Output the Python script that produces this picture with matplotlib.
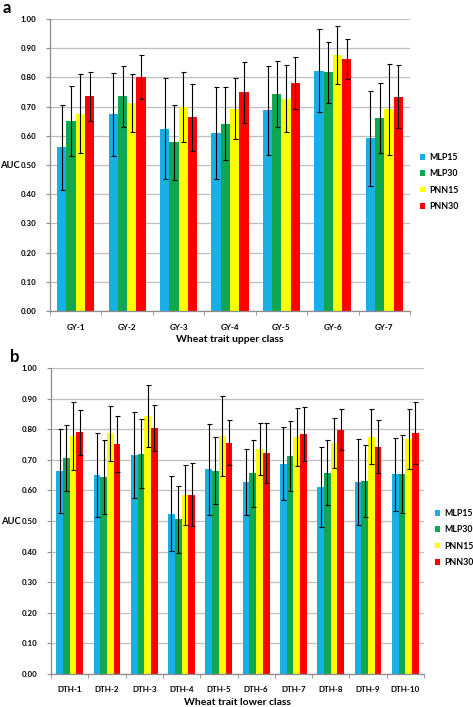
import numpy as np
import matplotlib
matplotlib.use("Agg")
import matplotlib.pyplot as plt
from matplotlib.patches import Patch

plt.rcParams['font.family'] = ['Lato', 'DejaVu Sans']
plt.rcParams['font.weight'] = 'bold'

# Data, panel a (upper class)
cats_a = ["GY-1", "GY-2", "GY-3", "GY-4", "GY-5", "GY-6", "GY-7"]
mlp15_a = [0.561, 0.673, 0.625, 0.609, 0.687, 0.823, 0.591]
mlp30_a = [0.650, 0.735, 0.578, 0.642, 0.744, 0.817, 0.661]
pnn15_a = [0.675, 0.713, 0.699, 0.693, 0.727, 0.877, 0.691]
pnn30_a = [0.735, 0.802, 0.663, 0.749, 0.782, 0.863, 0.734]
mlp15_a_err = [0.145, 0.143, 0.174, 0.157, 0.153, 0.143, 0.164]
mlp30_a_err = [0.120, 0.105, 0.128, 0.124, 0.113, 0.104, 0.120]
pnn15_a_err = [0.135, 0.099, 0.120, 0.105, 0.114, 0.100, 0.156]
pnn30_a_err = [0.083, 0.075, 0.115, 0.105, 0.089, 0.070, 0.107]

# Data, panel b (lower class)
cats_b = ["DTH-1", "DTH-2", "DTH-3", "DTH-4", "DTH-5",
          "DTH-6", "DTH-7", "DTH-8", "DTH-9", "DTH-10"]
mlp15_b = [0.664, 0.650, 0.716, 0.524, 0.669, 0.627, 0.687, 0.612, 0.627, 0.652]
mlp30_b = [0.705, 0.643, 0.720, 0.505, 0.665, 0.656, 0.712, 0.658, 0.632, 0.653]
pnn15_b = [0.778, 0.787, 0.844, 0.585, 0.777, 0.735, 0.775, 0.756, 0.775, 0.767]
pnn30_b = [0.790, 0.751, 0.804, 0.586, 0.756, 0.722, 0.784, 0.799, 0.743, 0.787]
mlp15_b_err = [0.137, 0.137, 0.140, 0.123, 0.148, 0.107, 0.120, 0.130, 0.140, 0.118]
mlp30_b_err = [0.108, 0.121, 0.112, 0.111, 0.111, 0.110, 0.115, 0.106, 0.118, 0.128]
pnn15_b_err = [0.110, 0.090, 0.102, 0.097, 0.130, 0.085, 0.095, 0.082, 0.090, 0.098]
pnn30_b_err = [0.073, 0.092, 0.076, 0.102, 0.074, 0.098, 0.089, 0.067, 0.087, 0.101]

names = ["MLP15", "MLP30", "PNN15", "PNN30"]
colors = ["#18AEE6", "#11A650", "#FFFF00", "#FF0000"]
grid_c = "#BFBFBF"
axis_c = "#8C8C8C"

fig = plt.figure(figsize=(4.73, 7.07), dpi=100)


def draw_panel(rect, cats, series, errs, xlabel, letter, letter_xy, leg_xy):
    ax = fig.add_axes(rect)
    n = len(cats)
    x = np.arange(n)
    w = 0.18
    offs = [-1.5 * w, -0.5 * w, 0.5 * w, 1.5 * w]
    for vals, err, off, c, name in zip(series, errs, offs, colors, names):
        ax.bar(x + off, vals, width=w, color=c, label=name, zorder=2)
        ax.errorbar(x + off, vals, yerr=err, fmt='none', ecolor='black',
                    elinewidth=0.8, capsize=1.8, capthick=0.8, zorder=3)
    ax.set_xlim(-0.5, n - 0.5)
    ax.set_ylim(0, 1.0)
    ax.set_yticks(np.arange(0, 1.01, 0.1))
    ax.set_yticklabels(["%.2f" % v for v in np.arange(0, 1.01, 0.1)],
                       fontsize=5.7, fontweight='bold')
    ax.yaxis.grid(True, color=grid_c, linewidth=0.9, zorder=0)
    ax.set_axisbelow(True)
    ax.set_xticks(x)
    ax.set_xticklabels(cats, fontsize=5.8, fontweight='bold')
    ax.set_xticks(np.arange(-0.5, n, 1), minor=True)
    ax.tick_params(axis='x', which='major', length=0, pad=9)
    ax.tick_params(axis='x', which='minor', length=3, color=axis_c, direction='out')
    ax.tick_params(axis='y', length=3, color=axis_c, pad=7)
    for s in ["top", "right"]:
        ax.spines[s].set_visible(False)
    for s in ["left", "bottom"]:
        ax.spines[s].set_color(axis_c)
        ax.spines[s].set_linewidth(0.9)
    ax.set_xlabel(xlabel, fontsize=7.5, fontweight='bold', labelpad=3)
    ax.set_ylabel("AUC", fontsize=6.8, fontweight='bold', rotation=0,
                  ha='left', va='center')
    ax.yaxis.set_label_coords(-50 / 473 / rect[2], 0.5)
    fig.text(letter_xy[0], letter_xy[1], letter, fontsize=12, fontweight='bold',
             ha='left', va='top')
    handles = [Patch(facecolor=c, label=nm) for c, nm in zip(colors, names)]
    fig.legend(handles=handles, loc='center left', bbox_to_anchor=leg_xy,
               frameon=False, handlelength=0.6, handleheight=0.6,
               prop={'size': 6.3, 'weight': 'bold'},
               handletextpad=0.4, labelspacing=0.85, borderpad=0, borderaxespad=0)
    return ax


draw_panel([50 / 473, 1 - 311 / 707, 360 / 473, 292 / 707], cats_a,
           [mlp15_a, mlp30_a, pnn15_a, pnn30_a],
           [mlp15_a_err, mlp30_a_err, pnn15_a_err, pnn30_a_err],
           "Wheat trait upper class", "a", (3 / 473, 1 - 0 / 707),
           (420 / 473, 1 - 182 / 707))

draw_panel([51 / 473, 1 - 674 / 707, 373 / 473, 306 / 707], cats_b,
           [mlp15_b, mlp30_b, pnn15_b, pnn30_b],
           [mlp15_b_err, mlp30_b_err, pnn15_b_err, pnn30_b_err],
           "Wheat trait lower class", "b", (10 / 473, 1 - 349 / 707),
           (435 / 473, 1 - 538 / 707))

fig.savefig("out.png", dpi=100)
